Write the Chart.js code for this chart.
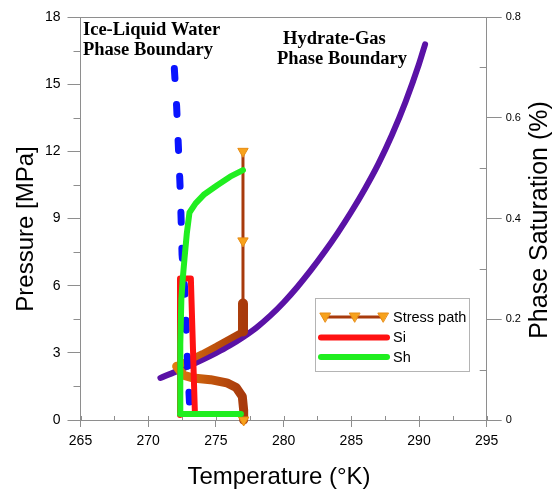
<!DOCTYPE html>
<html>
<head>
<meta charset="utf-8">
<script src="https://cdn.jsdelivr.net/npm/chart.js@4.4.1/dist/chart.umd.min.js"></script>
<style>
  html, body { margin: 0; padding: 0; background: #fff; }
  canvas { display: block; }
</style>
</head>
<body>
<canvas id="c" width="558" height="493" style="width:558px;height:493px"></canvas>
<script>
// Hydrate-gas phase boundary: temperature [K] vs pressure [MPa]
const hydrateT = [270.9, 272, 273, 274, 275, 276, 277, 278, 279, 280, 281, 282, 283, 284, 285, 286, 287, 288, 289, 290, 290.45];
const hydrateP = [1.88, 2.15, 2.41, 2.69, 2.99, 3.32, 3.70, 4.13, 4.65, 5.25, 5.93, 6.68, 7.49, 8.36, 9.30, 10.32, 11.44, 12.73, 14.2, 15.9, 16.78];

// Ice-liquid water phase boundary
const iceT = [271.93, 272.1, 272.23, 272.35, 272.43, 272.5, 272.7, 272.8, 272.9, 273.05];
const iceP = [15.7, 14.0, 12.2, 10.5, 9.0, 7.4, 5.8, 4.2, 2.6, 0.76];

// Stress path followed by the sample (temperature [K], pressure [MPa])
const stressT = [277.0, 277.0, 277.0, 277.0, 276.0, 275.0, 274.0, 273.0, 272.1, 272.6, 273.3, 274.6, 275.8, 276.5, 276.95, 277.05, 277.05];
const stressP = [12.0, 8.0, 5.2, 3.95, 3.62, 3.28, 2.96, 2.66, 2.4, 2.0, 1.88, 1.8, 1.66, 1.45, 1.05, 0.45, 0.0];
const stressMarkerIdx = [0, 1, 16];
const stressSegWidth = [3, 3, 10, 7, 7, 7, 7, 7, 9, 9, 9, 9, 9, 9, 9, 9];

// Ice saturation Si (right axis, fraction)
const siT = [272.35, 272.35, 273.15, 273.45];
const siS = [0.01, 0.281, 0.281, 0.012];

// Hydrate saturation Sh (right axis, fraction)
const shT = [276.85, 272.35, 272.37, 272.45, 272.55, 272.68, 272.85, 273.05, 273.5, 274.1, 275.1, 276.05, 277.0];
const shS = [0.012, 0.012, 0.15, 0.24, 0.28, 0.32, 0.37, 0.412, 0.43, 0.447, 0.466, 0.483, 0.496];

// Axis ticks
const tempTicks = [265, 270, 275, 280, 285, 290, 295];
const pressureTicks = [0, 3, 6, 9, 12, 15, 18];
const saturationTicks = [0, 0.2, 0.4, 0.6, 0.8];

// Legend entries and axis titles
const legendLabels = ['Stress path', 'Si', 'Sh'];
const xTitle = 'Temperature (°K)';
const yTitle = 'Pressure [MPa]';
const y2Title = 'Phase Saturation (%)';
const iceLabel = ['Ice-Liquid Water', 'Phase Boundary'];
const hydrateLabel = ['Hydrate-Gas', 'Phase Boundary'];

const AXIS_GRAY = '#8e8e8e';
const BROWN = '#a83a0c';
const ORANGE = '#f7a21c';
const RED = '#ff1212';
const GREEN = '#20ee20';
const BLUE = '#0a14ff';
const PURPLE = '#5a12a6';

const toPts = (xs, ys) => xs.map((x, i) => ({ x, y: ys[i] }));

Chart.defaults.font.family = "'Liberation Sans', Arial, Helvetica, sans-serif";
Chart.defaults.color = '#000';

function stressGradient(ctx) {
  const chart = ctx.chart;
  if (!chart.chartArea) return BROWN;
  const xs = chart.scales.x;
  const x0 = xs.getPixelForValue(272);
  const x1 = xs.getPixelForValue(277);
  const g = chart.ctx.createLinearGradient(x0, 0, x1, 0);
  g.addColorStop(0, '#e27c10');
  g.addColorStop(0.45, '#c4580c');
  g.addColorStop(1, BROWN);
  return g;
}

// Minor ticks, inner tick stubs and the top frame line
const frameTicks = {
  id: 'frameTicks',
  beforeDatasetsDraw(chart) {
    const { ctx, chartArea: a, scales } = chart;
    ctx.save();
    ctx.strokeStyle = AXIS_GRAY;
    ctx.lineWidth = 1;
    ctx.beginPath();
    ctx.moveTo(a.left, a.top + 0.5);
    ctx.lineTo(a.right, a.top + 0.5);
    for (let i = 0; i < pressureTicks.length - 1; i++) {
      const y = Math.round(scales.y.getPixelForValue((pressureTicks[i] + pressureTicks[i + 1]) / 2)) + 0.5;
      ctx.moveTo(a.left - 7, y); ctx.lineTo(a.left, y);
    }
    for (let i = 0; i < saturationTicks.length - 1; i++) {
      const y = Math.round(scales.y2.getPixelForValue((saturationTicks[i] + saturationTicks[i + 1]) / 2)) + 0.5;
      ctx.moveTo(a.right - 7, y); ctx.lineTo(a.right, y);
    }
    for (let i = 0; i < tempTicks.length; i++) {
      const vals = [tempTicks[i]];
      if (i < tempTicks.length - 1) vals.push((tempTicks[i] + tempTicks[i + 1]) / 2);
      vals.forEach(v => {
        const x = Math.round(scales.x.getPixelForValue(v)) + 0.5;
        ctx.moveTo(x, a.bottom - 4); ctx.lineTo(x, a.bottom);
      });
    }
    ctx.stroke();
    ctx.restore();
  }
};

function downTriangle(ctx, x, y, r) {
  ctx.beginPath();
  ctx.moveTo(x, y + r);
  ctx.lineTo(x - r * 0.866, y - r / 2);
  ctx.lineTo(x + r * 0.866, y - r / 2);
  ctx.closePath();
  ctx.fillStyle = ORANGE;
  ctx.fill();
  ctx.strokeStyle = '#e88c14';
  ctx.lineWidth = 1;
  ctx.stroke();
}

// Text labels, axis titles and the legend box
const overlay = {
  id: 'overlay',
  afterDraw(chart) {
    const { ctx } = chart;
    ctx.save();
    ctx.fillStyle = '#000';

    ctx.font = "bold 18.5px 'Liberation Serif', 'Times New Roman', serif";
    ctx.textAlign = 'left';
    ctx.textBaseline = 'alphabetic';
    ctx.fillText(iceLabel[0], 83, 35);
    ctx.fillText(iceLabel[1], 83, 55);
    ctx.fillText(hydrateLabel[0], 283, 43.5);
    ctx.fillText(hydrateLabel[1], 277, 64);

    ctx.font = "24px 'Liberation Sans', Arial, Helvetica, sans-serif";
    ctx.textAlign = 'center';
    ctx.fillText(xTitle, 279, 483.5);

    ctx.save();
    ctx.translate(33, 229);
    ctx.rotate(-Math.PI / 2);
    ctx.fillText(yTitle, 0, 0);
    ctx.restore();

    ctx.save();
    ctx.font = "25px 'Liberation Sans', Arial, Helvetica, sans-serif";
    ctx.translate(546.5, 220);
    ctx.rotate(-Math.PI / 2);
    ctx.fillText(y2Title, 0, 0);
    ctx.restore();

    // legend
    const bx = 315.5, by = 298.5, bw = 154, bh = 73;
    ctx.fillStyle = '#fff';
    ctx.fillRect(bx, by, bw, bh);
    ctx.strokeStyle = '#b4b4b4';
    ctx.lineWidth = 1;
    ctx.strokeRect(bx, by, bw, bh);

    const rows = [317, 337.5, 357];
    const x0 = 321, x1 = 387;
    ctx.lineCap = 'round';
    ctx.strokeStyle = BROWN; ctx.lineWidth = 3;
    ctx.beginPath(); ctx.moveTo(x0 + 4, rows[0]); ctx.lineTo(x1 - 4, rows[0]); ctx.stroke();
    [325, 354.5, 383].forEach(x => downTriangle(ctx, x, rows[0] - 1, 6));
    ctx.lineWidth = 6;
    ctx.strokeStyle = RED;
    ctx.beginPath(); ctx.moveTo(x0, rows[1]); ctx.lineTo(x1, rows[1]); ctx.stroke();
    ctx.strokeStyle = GREEN;
    ctx.beginPath(); ctx.moveTo(x0, rows[2]); ctx.lineTo(x1, rows[2]); ctx.stroke();

    ctx.fillStyle = '#000';
    ctx.font = "14.5px 'Liberation Sans', Arial, Helvetica, sans-serif";
    ctx.textAlign = 'left';
    ctx.textBaseline = 'middle';
    legendLabels.forEach((t, i) => ctx.fillText(t, 393, rows[i] + 0.5));
    ctx.restore();
  }
};

new Chart(document.getElementById('c'), {
  type: 'scatter',
  data: {
    datasets: [
      {
        label: 'Hydrate-Gas Phase Boundary',
        data: toPts(hydrateT, hydrateP),
        yAxisID: 'y',
        showLine: true,
        borderColor: PURPLE,
        borderWidth: 6,
        borderCapStyle: 'round',
        borderJoinStyle: 'round',
        cubicInterpolationMode: 'monotone',
        pointRadius: 0,
        order: 5
      },
      {
        label: legendLabels[0],
        data: toPts(stressT, stressP),
        yAxisID: 'y',
        showLine: true,
        borderColor: stressGradient,
        borderWidth: 3,
        borderCapStyle: 'round',
        borderJoinStyle: 'round',
        tension: 0,
        clip: 12,
        segment: {
          borderWidth: c => stressSegWidth[c.p0DataIndex],
          borderCapStyle: c => (c.p0DataIndex === 2 ? 'butt' : 'round')
        },
        pointStyle: 'triangle',
        rotation: 180,
        pointRadius: c => (stressMarkerIdx.includes(c.dataIndex) ? 6 : 0),
        pointBackgroundColor: ORANGE,
        pointBorderColor: '#e88c14',
        pointBorderWidth: 1,
        order: 4
      },
      {
        label: 'Ice-Liquid Water Phase Boundary',
        data: toPts(iceT, iceP),
        yAxisID: 'y',
        showLine: true,
        borderColor: BLUE,
        borderWidth: 7,
        borderDash: [10, 26],
        borderCapStyle: 'round',
        pointRadius: 0,
        order: 3
      },
      {
        label: legendLabels[1],
        data: toPts(siT, siS),
        yAxisID: 'y2',
        showLine: true,
        borderColor: RED,
        borderWidth: 6,
        borderCapStyle: 'round',
        borderJoinStyle: 'round',
        pointRadius: 0,
        order: 2
      },
      {
        label: legendLabels[2],
        data: toPts(shT, shS),
        yAxisID: 'y2',
        showLine: true,
        borderColor: GREEN,
        borderWidth: 6,
        borderCapStyle: 'round',
        borderJoinStyle: 'round',
        pointRadius: 0,
        order: 1
      }
    ]
  },
  options: {
    responsive: false,
    animation: false,
    events: [],
    layout: { padding: { top: 17, left: 0, right: 0, bottom: 0 } },
    plugins: { legend: { display: false }, tooltip: { enabled: false } },
    scales: {
      x: {
        type: 'linear',
        position: 'bottom',
        min: 265, max: 295,
        afterBuildTicks: s => { s.ticks = tempTicks.map(v => ({ value: v })); },
        afterFit: s => { s.height = 73; },
        ticks: { font: { size: 14 }, color: '#000', padding: 6, maxRotation: 0 },
        grid: { drawOnChartArea: false, tickLength: 7, color: AXIS_GRAY },
        border: { color: AXIS_GRAY }
      },
      y: {
        type: 'linear',
        position: 'left',
        min: 0, max: 18,
        afterBuildTicks: s => { s.ticks = pressureTicks.map(v => ({ value: v })); },
        afterFit: s => { s.width = 80.5; },
        ticks: { font: { size: 14 }, color: '#000', padding: 7 },
        grid: { drawOnChartArea: false, tickLength: 13, color: AXIS_GRAY },
        border: { color: AXIS_GRAY }
      },
      y2: {
        type: 'linear',
        position: 'right',
        min: 0, max: 0.8,
        afterBuildTicks: s => { s.ticks = saturationTicks.map(v => ({ value: v })); },
        afterFit: s => { s.width = 71.3; },
        ticks: { font: { size: 11 }, color: '#000', padding: 4, callback: v => String(v) },
        grid: { drawOnChartArea: false, tickLength: 15, color: AXIS_GRAY },
        border: { color: AXIS_GRAY }
      }
    }
  },
  plugins: [frameTicks, overlay]
});
</script>
</body>
</html>
